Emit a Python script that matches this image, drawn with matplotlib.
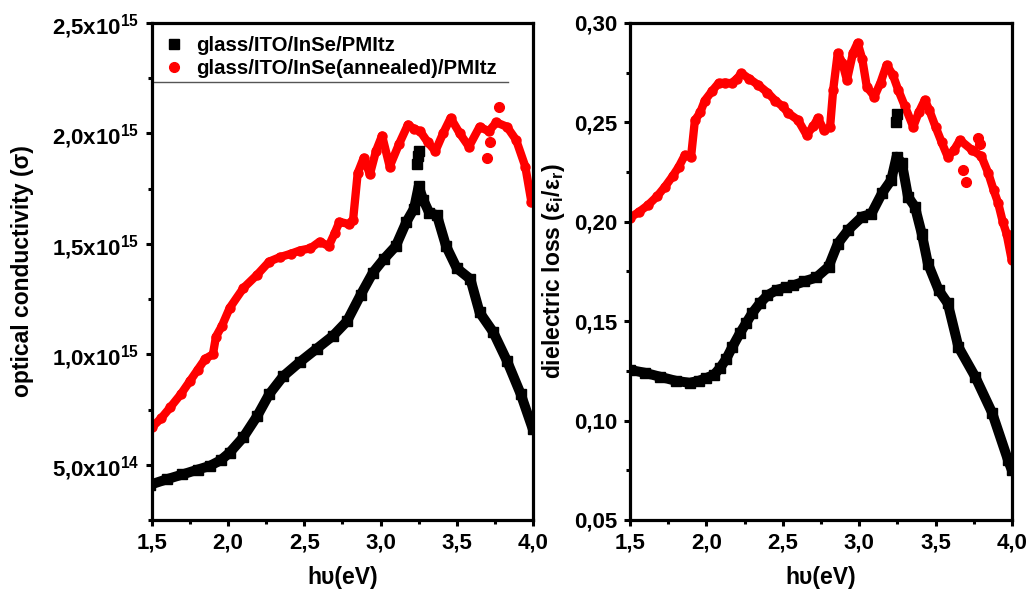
import matplotlib
matplotlib.use('Agg')
import matplotlib.pyplot as plt
import matplotlib.ticker as plticker
from matplotlib.lines import Line2D

plt.rcParams['font.family'] = ['Liberation Sans', 'DejaVu Sans']
plt.rcParams['font.weight'] = 'bold'
plt.rcParams['axes.labelweight'] = 'bold'
plt.rcParams['mathtext.default'] = 'regular'

labels = ['glass/ITO/InSe/PMItz', 'glass/ITO/InSe(annealed)/PMItz']

# optical conductivity, units of 1e15
e_cond_black = [1.49, 1.60, 1.70, 1.80, 1.88, 1.95, 2.01, 2.10, 2.19, 2.27, 2.36, 2.47, 2.58, 2.69,
                2.78, 2.87, 2.95, 3.02, 3.10, 3.17, 3.22, 3.25, 3.28, 3.32, 3.37, 3.43, 3.50, 3.59,
                3.65, 3.74, 3.83, 3.92, 4.00]
s_cond_black = [0.41, 0.435, 0.456, 0.478, 0.495, 0.52, 0.555, 0.625, 0.72, 0.82, 0.90, 0.965, 1.025, 1.085,
                1.15, 1.27, 1.37, 1.43, 1.49, 1.60, 1.66, 1.76, 1.70, 1.64, 1.63, 1.49, 1.39, 1.34,
                1.19, 1.10, 0.97, 0.82, 0.66]
e_cond_black_out = [3.24, 3.245, 3.25]
s_cond_black_out = [1.86, 1.90, 1.92]

e_cond_red = [1.50, 1.56, 1.62, 1.69, 1.75, 1.80, 1.85, 1.90, 1.92, 1.96, 2.01, 2.10, 2.19, 2.27, 2.34,
              2.41, 2.47, 2.54, 2.60, 2.66, 2.70, 2.73, 2.79, 2.82, 2.85, 2.89, 2.93, 2.97, 3.01,
              3.06, 3.12, 3.18, 3.22, 3.26, 3.31, 3.36, 3.41, 3.46, 3.52, 3.58, 3.65, 3.71, 3.76,
              3.83, 3.89, 3.95, 3.99]
s_cond_red = [0.67, 0.71, 0.76, 0.82, 0.88, 0.93, 0.98, 1.00, 1.08, 1.13, 1.21, 1.30, 1.36, 1.42, 1.44,
              1.455, 1.47, 1.48, 1.51, 1.49, 1.55, 1.60, 1.59, 1.61, 1.82, 1.89, 1.815, 1.92, 1.99,
              1.85, 1.95, 2.04, 2.02, 2.01, 1.96, 1.92, 2.00, 2.07, 2.00, 1.94, 2.03, 2.01, 2.05,
              2.03, 1.97, 1.85, 1.69]
e_cond_red_out = [3.70, 3.72, 3.78]
s_cond_red_out = [1.89, 1.96, 2.12]

# dielectric loss
e_loss_black = [1.50, 1.60, 1.70, 1.80, 1.89, 1.95, 2.00, 2.05, 2.09, 2.13, 2.17, 2.22, 2.26, 2.30,
                2.35, 2.40, 2.46, 2.52, 2.57, 2.64, 2.72, 2.80, 2.86, 2.93, 3.02, 3.08, 3.15,
                3.21, 3.245, 3.28, 3.32, 3.365, 3.41, 3.45, 3.52, 3.58, 3.65, 3.76, 3.87, 3.975, 4.00]
l_loss_black = [0.1255, 0.124, 0.122, 0.120, 0.119, 0.120, 0.1214, 0.123, 0.1265, 0.131, 0.137, 0.144, 0.149, 0.154,
                0.159, 0.163, 0.1657, 0.167, 0.168, 0.170, 0.172, 0.1774, 0.189, 0.196, 0.2026, 0.204, 0.2144,
                0.221, 0.2327, 0.2295, 0.2126, 0.2076, 0.194, 0.179, 0.1657, 0.159, 0.137, 0.122, 0.104, 0.080, 0.075]
e_loss_black_out = [3.24, 3.25]
l_loss_black_out = [0.250, 0.254]

e_loss_red = [1.50, 1.56, 1.62, 1.68, 1.73, 1.78, 1.82, 1.86, 1.90, 1.925, 1.96, 1.99, 2.04, 2.08, 2.12,
              2.165, 2.20, 2.23, 2.28, 2.34, 2.40, 2.45, 2.50, 2.535, 2.60, 2.656, 2.70, 2.73,
              2.77, 2.81, 2.83, 2.86, 2.89, 2.92, 2.96, 2.99, 3.02, 3.05, 3.10, 3.14, 3.18, 3.22,
              3.256, 3.30, 3.354, 3.39, 3.43, 3.46, 3.50, 3.54, 3.58, 3.62, 3.66, 3.74, 3.80,
              3.845, 3.88, 3.91, 3.94, 3.965, 3.998]
l_loss_red = [0.202, 0.205, 0.2085, 0.213, 0.2177, 0.223, 0.2277, 0.2336, 0.2327, 0.251, 0.255, 0.261, 0.266, 0.2697, 0.270,
              0.2697, 0.272, 0.2747, 0.272, 0.2688, 0.265, 0.261, 0.258, 0.2547, 0.2512, 0.2437, 0.248, 0.2522,
              0.246, 0.2478, 0.2663, 0.2848, 0.280, 0.2713, 0.285, 0.290, 0.282, 0.268, 0.263, 0.270, 0.2789, 0.274,
              0.2663, 0.258, 0.2478, 0.255, 0.2613, 0.256, 0.2478, 0.240, 0.2327, 0.236, 0.2411, 0.236, 0.233,
              0.2245, 0.216, 0.2094, 0.200, 0.194, 0.181]
e_loss_red_out = [3.68, 3.70, 3.78, 3.79]
l_loss_red_out = [0.226, 0.220, 0.242, 0.239]

fig = plt.figure(figsize=(10.31, 5.94), dpi=100)
ax1 = fig.add_axes([0.1474, 0.1246, 0.3695, 0.8367])
ax2 = fig.add_axes([0.611, 0.1246, 0.3705, 0.8367])

blk = dict(color='black', marker='s', ms=6.5, lw=7.2, solid_joinstyle='round', solid_capstyle='butt')
red = dict(color='red', marker='o', ms=6.5, lw=6, solid_joinstyle='round', solid_capstyle='round')

ax1.plot(e_cond_red, [v * 1e15 for v in s_cond_red], **red)
ax1.plot(e_cond_red_out, [v * 1e15 for v in s_cond_red_out], ls='none', color='red', marker='o', ms=7)
ax1.plot(e_cond_black, [v * 1e15 for v in s_cond_black], **blk)
ax1.plot(e_cond_black_out, [v * 1e15 for v in s_cond_black_out], ls='none', color='black', marker='s', ms=6.5)

ax2.plot(e_loss_red, l_loss_red, **red)
ax2.plot(e_loss_red_out, l_loss_red_out, ls='none', color='red', marker='o', ms=7)
ax2.plot(e_loss_black, l_loss_black, **blk)
ax2.plot(e_loss_black_out, l_loss_black_out, ls='none', color='black', marker='s', ms=6.5)


def sci_fmt(v, pos):
    m, e = f'{v:.1e}'.split('e')
    return m.replace('.', ',') + 'x10$^{' + str(int(e)) + '}$'


def comma_fmt(nd):
    return plticker.FuncFormatter(lambda v, pos: f'{v:.{nd}f}'.replace('.', ','))


ax1.set_xlim(1.5, 4.0)
ax1.set_ylim(2.5e14, 2.5e15)
ax1.yaxis.set_major_locator(plticker.FixedLocator([5e14, 1e15, 1.5e15, 2e15, 2.5e15]))
ax1.yaxis.set_minor_locator(plticker.MultipleLocator(2.5e14))
ax1.yaxis.set_major_formatter(plticker.FuncFormatter(sci_fmt))

ax2.set_xlim(1.5, 4.0)
ax2.set_ylim(0.05, 0.30)
ax2.yaxis.set_major_locator(plticker.MultipleLocator(0.05))
ax2.yaxis.set_minor_locator(plticker.MultipleLocator(0.025))
ax2.yaxis.set_major_formatter(comma_fmt(2))

for ax in (ax1, ax2):
    ax.xaxis.set_major_locator(plticker.MultipleLocator(0.5))
    ax.xaxis.set_minor_locator(plticker.MultipleLocator(0.25))
    ax.xaxis.set_major_formatter(comma_fmt(1))
    for sp in ax.spines.values():
        sp.set_linewidth(2.3)
    ax.tick_params(which='major', direction='out', length=4.5, width=2.2, labelsize=16, pad=4.5)
    ax.tick_params(which='minor', direction='out', length=3, width=2.2)
    ax.tick_params(top=False, right=False, which='both')
    for t in ax.get_xticklabels() + ax.get_yticklabels():
        t.set_fontweight('bold')
    ax.set_xlabel('h\u03c5(eV)', fontsize=16.5, fontweight='bold')
    ax.xaxis.set_label_coords(0.5, -0.092)

ax1.set_ylabel('optical conductivity (\u03c3)', fontsize=16.5, fontweight='bold')
ax1.yaxis.set_label_coords(-0.31, 0.5)
ax2.set_ylabel('dielectric loss (\u03b5$_i$/\u03b5$_r$)', fontsize=16.5, fontweight='bold')
ax2.yaxis.set_label_coords(-0.165, 0.5)

handles = [Line2D([], [], color='black', marker='s', ls='none', ms=6.5),
           Line2D([], [], color='red', marker='o', ms=7, ls='none')]
ax1.legend(handles, labels, loc='upper left', bbox_to_anchor=(-0.017, 1.01), frameon=False,
           prop={'size': 14.7, 'weight': 'bold'}, handlelength=1.0, handletextpad=0.6,
           labelspacing=0.2, borderpad=0.4)
ax1.plot([0, 0.934], [0.881, 0.881], transform=ax1.transAxes, color='#555555', lw=1.0)

fig.savefig('out.png', dpi=100)
